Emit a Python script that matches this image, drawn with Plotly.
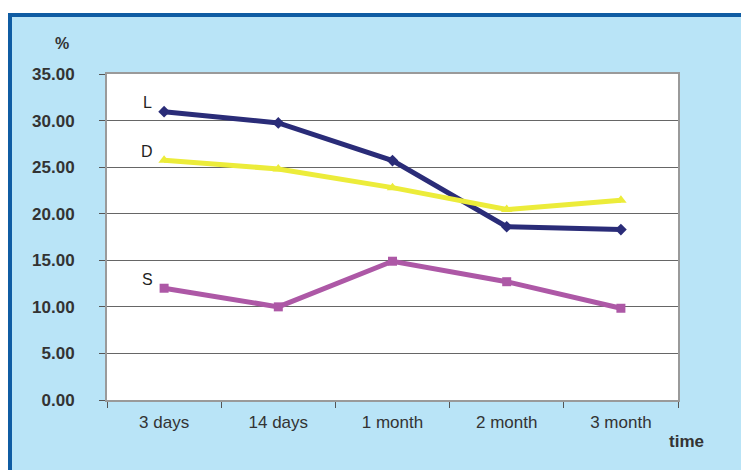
import plotly.graph_objects as go

# Measurement times and percentage values per series
times = ["3 days", "14 days", "1 month", "2 month", "3 month"]
series_names = ["L", "D", "S"]
values_L = [30.95, 29.75, 25.7, 18.6, 18.3]
values_D = [25.75, 24.8, 22.8, 20.45, 21.45]
values_S = [12.0, 10.0, 14.9, 12.7, 9.85]
y_ticks = [0, 5, 10, 15, 20, 25, 30, 35]

W, H = 741, 470
ML, MR, MT, MB = 107, 63, 74, 70
PW, PH = W - ML - MR, H - MT - MB


def px_x(px):
    return (px - ML) / PW


def px_y(py):
    return (H - MB - py) / PH


styles = {
    "L": dict(color="#2a2c78", symbol="diamond", size=9),
    "D": dict(color="#ecec3a", symbol="triangle-up", size=10),
    "S": dict(color="#ad58a6", symbol="square", size=9),
}
data = {"L": values_L, "D": values_D, "S": values_S}

fig = go.Figure()
for name in series_names:
    st = styles[name]
    fig.add_trace(go.Scatter(
        x=times, y=data[name], mode="lines+markers", name=name,
        line=dict(color=st["color"], width=5),
        marker=dict(color=st["color"], symbol=st["symbol"], size=st["size"]),
        showlegend=False,
    ))

annotations = []
for name in series_names:
    annotations.append(dict(
        x=times[0], y=data[name][0], xref="x", yref="y", text=name,
        showarrow=False, xshift=-17, yshift=9,
        font=dict(family="Arial, Liberation Sans", size=16, color="#222222"),
    ))
annotations.append(dict(
    x=px_x(62), y=px_y(43), xref="paper", yref="paper", text="<b>%</b>",
    xanchor="center", yanchor="middle", showarrow=False,
    font=dict(family="Arial, Liberation Sans", size=16, color="#333333"),
))
annotations.append(dict(
    x=px_x(686), y=px_y(441), xref="paper", yref="paper", text="<b>time</b>",
    xanchor="center", yanchor="middle", showarrow=False,
    font=dict(family="Arial, Liberation Sans", size=17, color="#333333"),
))

border_blue = "#0f5ca3"
shapes = [
    # white outer strips
    dict(type="rect", xref="paper", yref="paper", x0=px_x(0), x1=px_x(W), y0=px_y(0), y1=px_y(13),
         fillcolor="white", line=dict(width=0), layer="above"),
    dict(type="rect", xref="paper", yref="paper", x0=px_x(0), x1=px_x(8), y0=px_y(0), y1=px_y(H),
         fillcolor="white", line=dict(width=0), layer="above"),
    # blue frame (top and left)
    dict(type="rect", xref="paper", yref="paper", x0=px_x(8), x1=px_x(W), y0=px_y(13), y1=px_y(17),
         fillcolor=border_blue, line=dict(width=0), layer="above"),
    dict(type="rect", xref="paper", yref="paper", x0=px_x(8), x1=px_x(12), y0=px_y(13), y1=px_y(H),
         fillcolor=border_blue, line=dict(width=0), layer="above"),
]

fig.update_layout(
    width=W, height=H,
    margin=dict(l=ML, r=MR, t=MT, b=MB),
    paper_bgcolor="#b9e4f7",
    plot_bgcolor="white",
    annotations=annotations,
    shapes=shapes,
    xaxis=dict(
        type="category", range=[-0.5, 4.5], tickson="boundaries",
        ticks="outside", ticklen=6, tickcolor="#555555",
        showgrid=False, showline=True, linecolor="#9a9a9a", linewidth=2, mirror=True,
        tickfont=dict(family="Arial, Liberation Sans", size=17, color="#333333"),
        ticklabelstandoff=6,
    ),
    yaxis=dict(
        range=[0, 35], tickvals=y_ticks, tickformat=".2f",
        ticks="outside", ticklen=6, tickcolor="#555555",
        showgrid=True, gridcolor="#666666", gridwidth=1,
        showline=True, linecolor="#9a9a9a", linewidth=2, mirror=True,
        zeroline=False,
        tickfont=dict(family="Arial, Liberation Sans", size=17, color="#333333", weight="bold"),
        ticklabelstandoff=21,
    ),
)

fig.write_html("out.html")
